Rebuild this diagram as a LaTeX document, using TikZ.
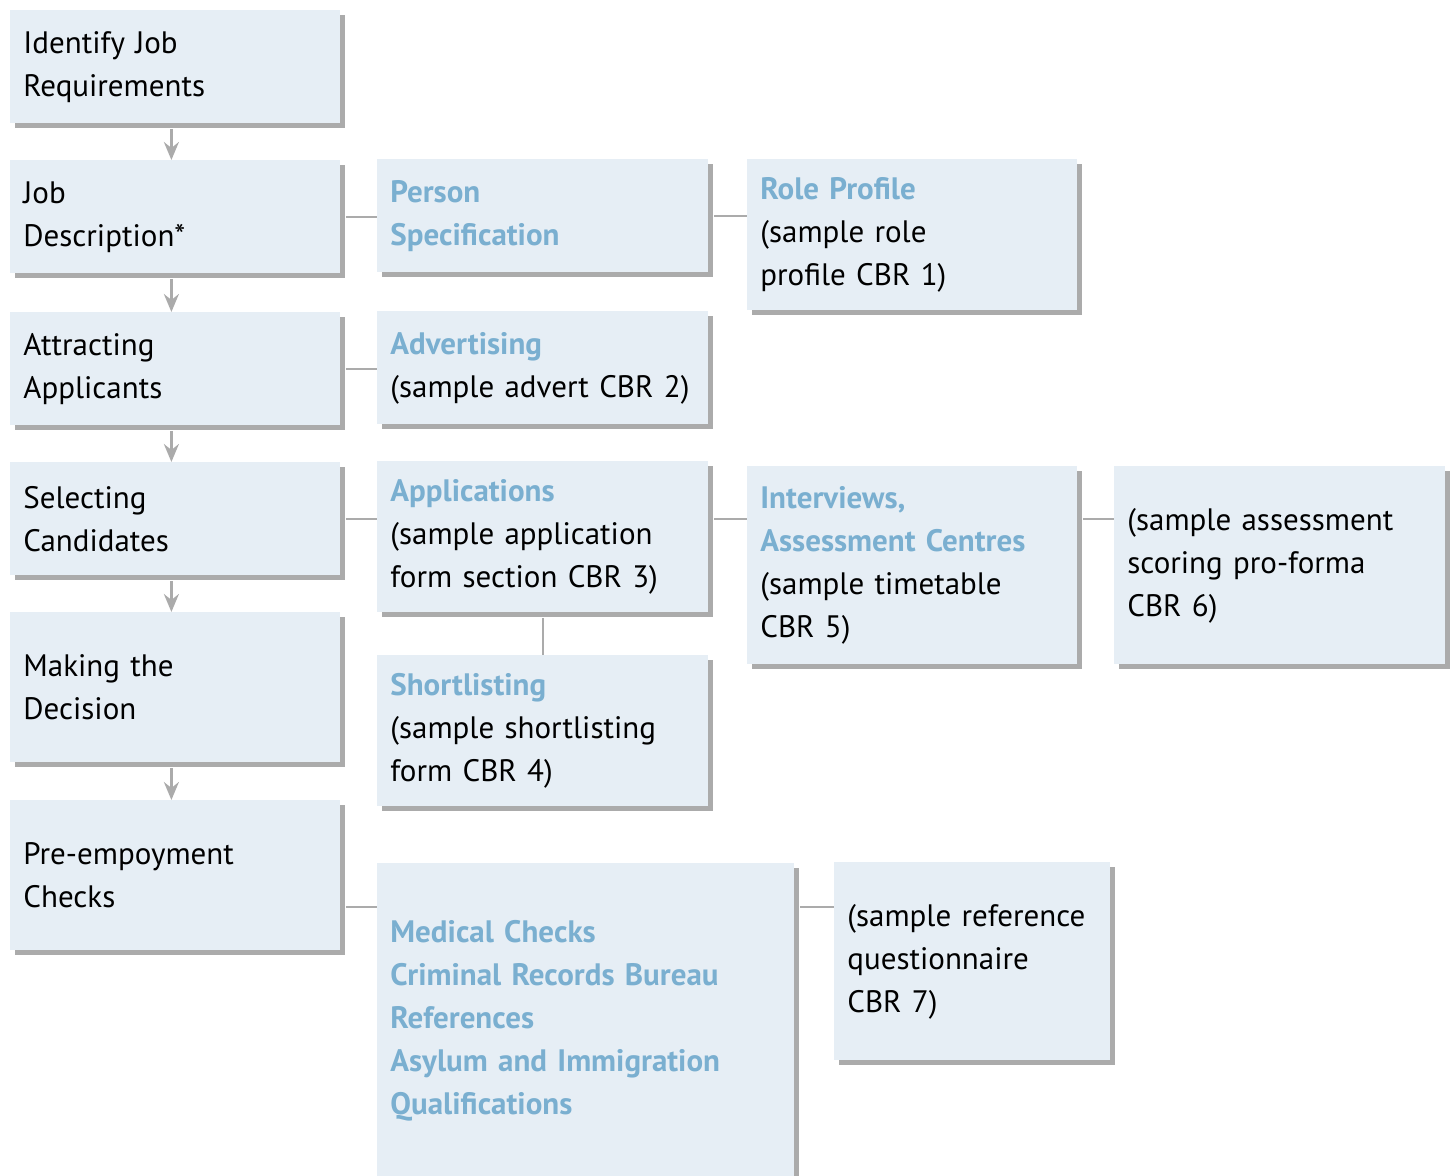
\documentclass[tikz,border=0pt]{standalone}
\usepackage{fontspec}
\setmainfont{PT Sans}
\usepackage{tikz}
\usetikzlibrary{arrows.meta, positioning, shadows}

\definecolor{boxfill}{HTML}{E6EEF5}
\definecolor{shadowgray}{HTML}{ABABAB}
\definecolor{headblue}{HTML}{7AAFD0}
\newcommand{\hd}[1]{{\bfseries\color{headblue}#1}}

\begin{document}
\begin{tikzpicture}[
  x=0.5pt, y=-0.5pt,
  box/.style={fill=boxfill, anchor=north west, align=left, inner xsep=6.5pt,
              font=\fontsize{15.5}{21.5}\selectfont,
              drop shadow={shadow xshift=2.5pt, shadow yshift=-2.5pt,
                           fill=shadowgray, opacity=1}},
  narrow/.style={box, text width=152pt},
  link/.style={draw=shadowgray, line width=1.3pt, shorten <=2.5pt},
  arr/.style={link, -{Stealth[length=9pt, width=7.5pt, inset=3pt]}}
]
  \clip (0,0) rectangle (1456,1176);

  % main steps
  \node[narrow, minimum height=56.5pt] (ident)    at (10,10)  {Identify Job\\Requirements};
  \node[narrow, minimum height=56.5pt] (jobdesc)  at (10,160) {Job\\Description*};
  \node[narrow, minimum height=56.5pt] (attract)  at (10,312) {Attracting\\Applicants};
  \node[narrow, minimum height=56.5pt] (select)   at (10,462) {Selecting\\Candidates};
  \node[narrow, minimum height=75pt]   (decide)   at (10,612) {Making the\\Decision};
  \node[narrow, minimum height=75pt]   (precheck) at (10,800) {Pre-empoyment\\Checks};

  % second column
  \node[box, text width=152.5pt, minimum height=56.5pt] (personspec) at (377,159)
    {\hd{Person}\\\hd{Specification}};
  \node[box, text width=152.5pt, minimum height=56.5pt] (advert) at (377,311)
    {\hd{Advertising}\\\mbox{(sample advert CBR 2)}};
  \node[box, text width=152.5pt, minimum height=75.5pt] (applic) at (377,461)
    {\hd{Applications}\\(sample application\\form section CBR 3)};
  \node[box, text width=152.5pt, minimum height=75.5pt] (shortlist) at (377,655)
    {\hd{Shortlisting}\\(sample shortlisting\\form CBR 4)};
  \node[box, text width=195.5pt, minimum height=157pt] (checks) at (377,863)
    {\hd{Medical Checks}\\\hd{Criminal Records Bureau}\\\hd{References}\\
     \hd{Asylum and Immigration}\\\hd{Qualifications}};

  % third and fourth columns
  \node[narrow, minimum height=75.5pt] (roleprof) at (747,159)
    {\hd{Role Profile}\\(sample role\\profile CBR 1)};
  \node[narrow, minimum height=99pt] (interview) at (747,466)
    {\hd{Interviews,}\\\hd{Assessment Centres}\\(sample timetable\\CBR 5)};
  \node[box, text width=152.5pt, minimum height=99pt] (scoring) at (1114,466)
    {(sample assessment\\scoring pro-forma\\CBR 6)};
  \node[box, text width=125pt, minimum height=99pt] (refq) at (834,862)
    {(sample reference\\questionnaire\\CBR 7)};

  \coordinate (chk) at (0,907);

  \foreach \a/\b in {ident/jobdesc, jobdesc/attract, attract/select,
                     select/decide, decide/precheck}
    \draw[arr] ([xshift=-2pt]\a.south) -- ([xshift=-2pt]\b.north);

  \draw[link] (jobdesc.east) -- (jobdesc.east -| personspec.west);
  \draw[link] (personspec.east) -- (personspec.east -| roleprof.west);
  \draw[link] (attract.east) -- (attract.east -| advert.west);
  \draw[link] (select.east) -- (select.east -| applic.west);
  \draw[link] (applic.east |- select.east) -- (select.east -| interview.west);
  \draw[link] (interview.east |- select.east) -- (select.east -| scoring.west);
  \draw[link] (applic.south) -- (shortlist.north);
  \draw[link] (precheck.east |- chk) -- (checks.west |- chk);
  \draw[link] (checks.east |- chk) -- (refq.west |- chk);
\end{tikzpicture}
\end{document}
